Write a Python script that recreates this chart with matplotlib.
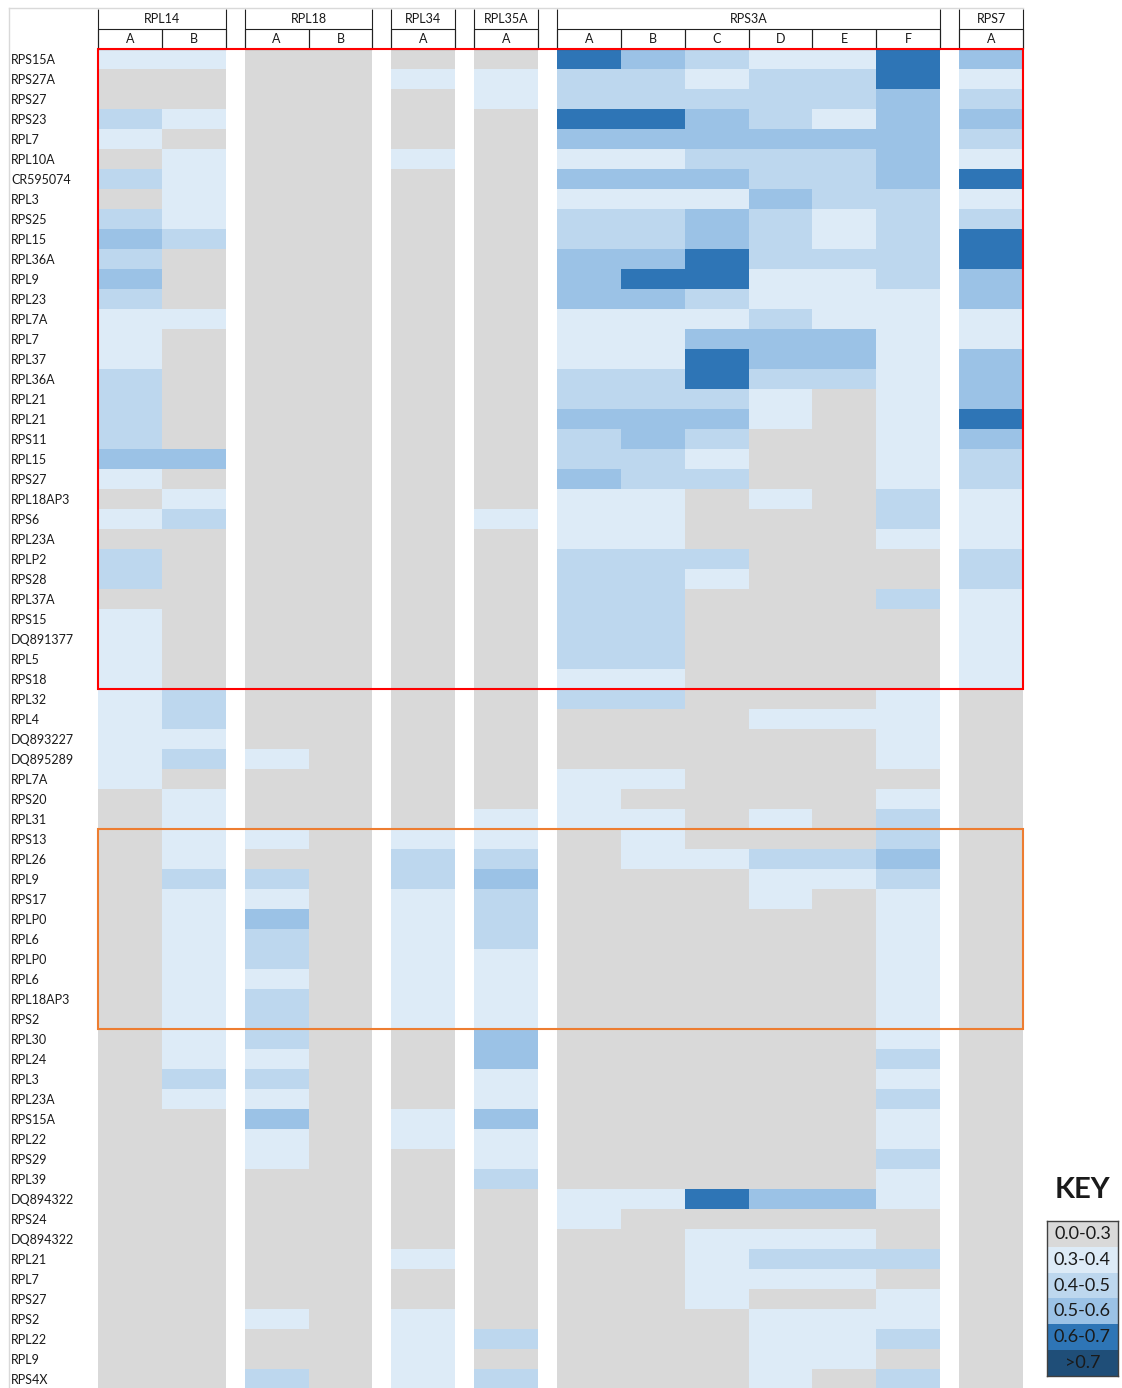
import numpy as np
import matplotlib.pyplot as plt
from matplotlib.colors import ListedColormap
from matplotlib.patches import Rectangle
from matplotlib.lines import Line2D

plt.rcParams['font.family'] = ['Lato', 'DejaVu Sans']

# row labels (top to bottom)
genes = ["RPS15A", "RPS27A", "RPS27", "RPS23", "RPL7", "RPL10A", "CR595074", "RPL3",
         "RPS25", "RPL15", "RPL36A", "RPL9", "RPL23", "RPL7A", "RPL7", "RPL37",
         "RPL36A", "RPL21", "RPL21", "RPS11", "RPL15", "RPS27", "RPL18AP3", "RPS6",
         "RPL23A", "RPLP2", "RPS28", "RPL37A", "RPS15", "DQ891377", "RPL5", "RPS18",
         "RPL32", "RPL4", "DQ893227", "DQ895289", "RPL7A", "RPS20", "RPL31", "RPS13",
         "RPL26", "RPL9", "RPS17", "RPLP0", "RPL6", "RPLP0", "RPL6", "RPL18AP3",
         "RPS2", "RPL30", "RPL24", "RPL3", "RPL23A", "RPS15A", "RPL22", "RPS29",
         "RPL39", "DQ894322", "RPS24", "DQ894322", "RPL21", "RPL7", "RPS27", "RPS2",
         "RPL22", "RPL9", "RPS4X"]

groups = ["RPL14", "RPL18", "RPL34", "RPL35A", "RPS3A", "RPS7"]
group_cols = [["A", "B"], ["A", "B"], ["A"], ["A"], ["A", "B", "C", "D", "E", "F"], ["A"]]

# key bin index per cell: 0 = 0.0-0.3, 1 = 0.3-0.4, 2 = 0.4-0.5, 3 = 0.5-0.6, 4 = 0.6-0.7, 5 = >0.7
rpl14_a = [1, 0, 0, 2, 1, 0, 2, 0, 2, 3, 2, 3, 2, 1, 1, 1, 2, 2, 2, 2, 3, 1, 0, 1, 0, 2, 2, 0,
           1, 1, 1, 1, 1, 1, 1, 1, 1] + [0] * 30
rpl14_b = [1, 0, 0, 1, 0, 1, 1, 1, 1, 2, 0, 0, 0, 1, 0, 0, 0, 0, 0, 0, 3, 0, 1, 2, 0, 0, 0, 0,
           0, 0, 0, 0, 2, 2, 1, 2, 0, 1, 1, 1, 1, 2, 1, 1, 1, 1, 1, 1, 1, 1, 1, 2, 1] + [0] * 14
rpl18_a = [0] * 35 + [1, 0, 0, 0, 1, 0, 2, 1, 3, 2, 2, 1, 2, 2, 2, 1, 2, 1, 3, 1, 1,
                      0, 0, 0, 0, 0, 0, 0, 1, 0, 0, 2]
rpl18_b = [0] * 67
rpl34_a = [0, 1, 0, 0, 0, 1] + [0] * 33 + [1, 2, 2, 1, 1, 1, 1, 1, 1, 1, 0, 0, 0, 0, 1, 1,
                                          0, 0, 0, 0, 0, 1, 0, 0, 1, 1, 1, 1]
rpl35a_a = [0, 1, 1] + [0] * 20 + [1] + [0] * 14 + [1, 1, 2, 3, 2, 2, 2, 1, 1, 1, 1, 3, 3,
                                                   1, 1, 3, 1, 1, 2, 0, 0, 0, 0, 0, 0, 0,
                                                   2, 0, 2]
rps3a_a = [4, 2, 2, 4, 3, 1, 3, 1, 2, 2, 3, 3, 3, 1, 1, 1, 2, 2, 3, 2, 2, 3, 1, 1, 1, 2, 2, 2,
           2, 2, 2, 1, 2, 0, 0, 0, 1, 1, 1] + [0] * 18 + [1, 1] + [0] * 8
rps3a_b = [3, 2, 2, 4, 3, 1, 3, 1, 2, 2, 3, 4, 3, 1, 1, 1, 2, 2, 3, 3, 2, 2, 1, 1, 1, 2, 2, 2,
           2, 2, 2, 1, 2, 0, 0, 0, 1, 0, 1, 1, 1] + [0] * 16 + [1] + [0] * 9
rps3a_c = [2, 1, 2, 3, 3, 2, 3, 1, 3, 3, 4, 4, 2, 1, 3, 4, 4, 2, 3, 2, 1, 2, 0, 0, 0, 2, 1] + \
          [0] * 13 + [1] + [0] * 16 + [4, 0, 1, 1, 1, 1, 0, 0, 0, 0]
rps3a_d = [1, 2, 2, 2, 3, 2, 2, 3, 2, 2, 2, 1, 1, 2, 3, 3, 2, 1, 1, 0, 0, 0, 1] + [0] * 10 + \
          [1, 0, 0, 0, 0, 1, 0, 2, 1, 1] + [0] * 14 + [3, 0, 1, 2, 1, 0, 1, 1, 1, 1]
rps3a_e = [1, 2, 2, 1, 3, 2, 2, 2, 1, 1, 2, 1, 1, 1, 3, 3, 2] + [0] * 16 + \
          [1, 0, 0, 0, 0, 0, 0, 2, 1] + [0] * 15 + [3, 0, 1, 2, 1, 0, 1, 1, 1, 0]
rps3a_f = [4, 4, 3, 3, 3, 3, 3, 2, 2, 2, 2, 2, 1, 1, 1, 1, 1, 1, 1, 1, 1, 1, 2, 2, 1, 0, 0, 2,
           0, 0, 0, 0, 1, 1, 1, 1, 0, 1, 2, 2, 3, 2, 1, 1, 1, 1, 1, 1, 1, 1, 2, 1, 2, 1, 1, 2,
           1, 1, 0, 0, 2, 0, 1, 1, 2, 0, 2]
rps7_a = [3, 1, 2, 3, 2, 1, 4, 1, 2, 4, 4, 3, 3, 1, 1, 3, 3, 3, 4, 3, 2, 2, 1, 1, 1, 2, 2, 1,
          1, 1, 1, 1] + [0] * 35

key_labels = ["0.0-0.3", "0.3-0.4", "0.4-0.5", "0.5-0.6", "0.6-0.7", ">0.7"]
key_colors = ["#D9D9D9", "#DDEBF7", "#BDD7EE", "#9BC2E6", "#2E75B6", "#1F4E78"]

columns = [rpl14_a, rpl14_b, rpl18_a, rpl18_b, rpl34_a, rpl35a_a,
           rps3a_a, rps3a_b, rps3a_c, rps3a_d, rps3a_e, rps3a_f, rps7_a]

W, H = 1122, 1388
fig = plt.figure(figsize=(W / 100, H / 100), dpi=100)
cmap = ListedColormap(key_colors)
n = len(genes)

# build the cell matrix, with blank (masked) spacer columns between gene groups
GAP = 19 / 64
edges = [0.0]
cols = []
letter_pos = []
spans = []
k = 0
for gi, (g, letters) in enumerate(zip(groups, group_cols)):
    if gi > 0:
        edges.append(edges[-1] + GAP)
        cols.append(np.full(n, np.nan))
    start = edges[-1]
    for letter in letters:
        cols.append(np.array(columns[k], dtype=float))
        k += 1
        letter_pos.append((edges[-1], edges[-1] + 1, letter))
        edges.append(edges[-1] + 1)
    spans.append((g, start, edges[-1]))
mat = np.ma.masked_invalid(np.column_stack(cols))

ax = fig.add_axes([98 / W, -1 / H, (1023 - 98) / W, (1389 - 49) / H])
ax.pcolormesh(edges, np.arange(n + 1), mat, cmap=cmap, vmin=-0.5, vmax=5.5, shading='flat')
ax.set_xlim(0, edges[-1])
ax.set_ylim(n, 0)
for s in ax.spines.values():
    s.set_visible(False)
ax.set_xticks([])
ax.set_yticks(np.arange(n) + 0.5)
ax.set_yticklabels(genes, fontsize=9, color='#1a1a1a')
ax.tick_params(axis='y', length=0, pad=87 * 0.72)
for lab in ax.get_yticklabels():
    lab.set_horizontalalignment('left')

# header boxes
lc = '#222222'
for g, s, e in spans:
    ax.text((s + e) / 2, -1.5, g, ha='center', va='center', fontsize=9, color='#1a1a1a')
    ax.vlines([s, e], -2, 0, colors=lc, lw=0.8, clip_on=False)
    ax.hlines([-1, 0], s, e, colors=lc, lw=0.8, clip_on=False)
for s, e, letter in letter_pos:
    ax.text((s + e) / 2, -0.5, letter, ha='center', va='center', fontsize=9, color='#1a1a1a')
    ax.vlines([s, e], -1, 0, colors=lc, lw=0.8, clip_on=False)

# highlighted blocks
ax.add_patch(Rectangle((0, 0), edges[-1], 32, fill=False, ec='#FF0000', lw=1.5, clip_on=False, zorder=5))
ax.add_patch(Rectangle((0, 39), edges[-1], 10, fill=False, ec='#ED7D31', lw=1.5, clip_on=False, zorder=5))

# faint sheet gridlines
fig.add_artist(Line2D([9 / W, 9 / W], [0, 1 - 8 / H], transform=fig.transFigure, color='#D9D9D9', lw=1))
fig.add_artist(Line2D([9 / W, 1023 / W], [1 - 8 / H, 1 - 8 / H], transform=fig.transFigure, color='#D9D9D9', lw=1))

# key
kax = fig.add_axes([1047 / W, 1 - 1376 / H, 71 / W, 155 / H])
kax.imshow(np.arange(len(key_labels))[:, None], cmap=cmap, vmin=-0.5, vmax=5.5, aspect='auto')
for i, lab in enumerate(key_labels):
    kax.text(0, i, lab, ha='center', va='center', fontsize=13, color='#1a1a1a')
kax.set_xticks([])
kax.set_yticks([])
for s in kax.spines.values():
    s.set_color('#404040')
    s.set_linewidth(1)
kax.text(0.5, 1.2, "KEY", transform=kax.transAxes, ha='center', va='center',
         fontsize=21, fontweight='bold', color='#1a1a1a')

fig.savefig("out.png", dpi=100)
